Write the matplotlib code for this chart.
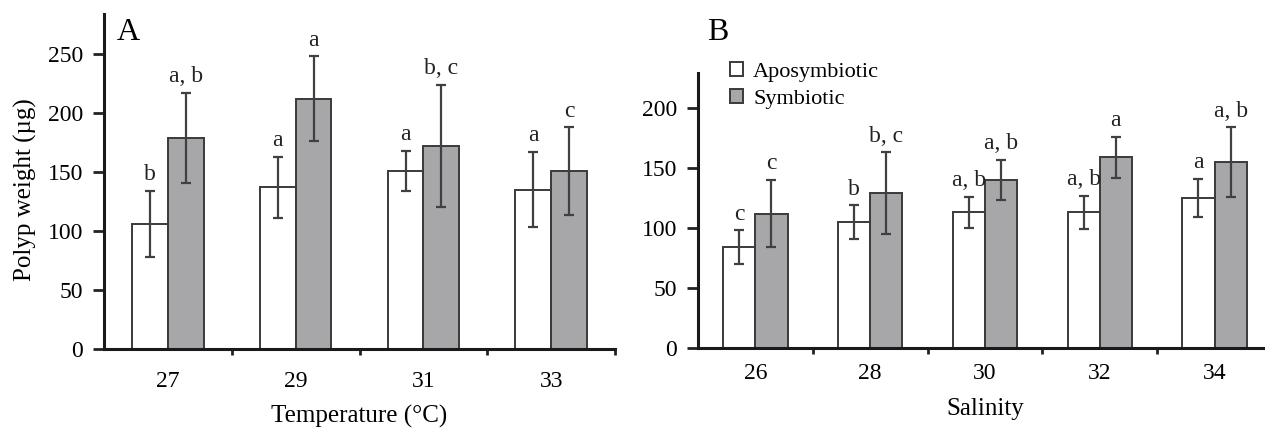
import numpy as np
import matplotlib
matplotlib.use('Agg')
import matplotlib.pyplot as plt
from matplotlib.patches import Patch

plt.rcParams['font.family'] = ['Liberation Serif', 'DejaVu Serif']

# Panel A: temperature
TEMP = ['27', '29', '31', '33']
TEMP_APO = [106, 137, 151, 135]
TEMP_APO_ERR = [28, 26, 17, 32]
TEMP_SYM = [179, 212, 172, 151]
TEMP_SYM_ERR = [38, 36, 52, 37]
TEMP_APO_LET = ['b', 'a', 'a', 'a']
TEMP_SYM_LET = ['a, b', 'a', 'b, c', 'c']

# Panel B: salinity
SAL = ['26', '28', '30', '32', '34']
SAL_APO = [84, 105, 113, 113, 125]
SAL_APO_ERR = [14, 14, 13, 14, 16]
SAL_SYM = [112, 129, 140, 159, 155]
SAL_SYM_ERR = [28, 34, 17, 17, 29]
SAL_APO_LET = ['c', 'b', 'a, b', 'a, b', 'a']
SAL_SYM_LET = ['c', 'b, c', 'a, b', 'a', 'a, b']

SYM_COLOR = '#a7a7a9'
EDGE = '#3a3a3a'
ERR = '#404040'
W = 0.28


def draw_panel(ax, cats, apo, apo_err, sym, sym_err, apo_let, sym_let,
               ymax, yticks, tickpad):
    x = np.arange(len(cats))
    ax.bar(x - W / 2, apo, W, color='white', edgecolor=EDGE, linewidth=1.4)
    ax.bar(x + W / 2, sym, W, color=SYM_COLOR, edgecolor=EDGE, linewidth=1.4)
    ax.errorbar(x - W / 2, apo, yerr=apo_err, fmt='none', ecolor=ERR,
                elinewidth=1.6, capsize=3.5, capthick=1.6)
    ax.errorbar(x + W / 2, sym, yerr=sym_err, fmt='none', ecolor=ERR,
                elinewidth=1.6, capsize=3.5, capthick=1.6)
    for xi, v, e, t in zip(x - W / 2, apo, apo_err, apo_let):
        ax.annotate(t, (xi, v + e), xytext=(0, 4), textcoords='offset points',
                    ha='center', va='bottom', fontsize=17, color='#222')
    for xi, v, e, t in zip(x + W / 2, sym, sym_err, sym_let):
        ax.annotate(t, (xi, v + e), xytext=(0, 4), textcoords='offset points',
                    ha='center', va='bottom', fontsize=17, color='#222')

    ax.set_xlim(-0.5, len(cats) - 0.5)
    ax.set_ylim(0, ymax)
    ax.set_yticks(yticks)
    ax.set_xticks(np.arange(len(cats)) + 0.5)
    ax.set_xticklabels([])
    ax.set_xticks(x, minor=True)
    ax.set_xticklabels(cats, minor=True)
    ax.tick_params(axis='x', which='major', direction='out', length=4,
                   width=2, color='#222')
    ax.tick_params(axis='x', which='minor', length=0, pad=tickpad,
                   labelsize=17)
    ax.tick_params(axis='y', direction='out', length=8, width=2,
                   color='#222', labelsize=17, pad=7)
    for s in ('top', 'right'):
        ax.spines[s].set_visible(False)
    for s in ('left', 'bottom'):
        ax.spines[s].set_linewidth(2.2)
        ax.spines[s].set_color('#1a1a1a')


fig = plt.figure(figsize=(12.65, 4.28), dpi=100)

axA = fig.add_axes([0.0822, 0.1846, 0.404, 0.7827])
draw_panel(axA, TEMP, TEMP_APO, TEMP_APO_ERR, TEMP_SYM, TEMP_SYM_ERR,
           TEMP_APO_LET, TEMP_SYM_LET, 284, [0, 50, 100, 150, 200, 250], 16)
axA.set_xlabel('Temperature (°C)', fontsize=18, labelpad=9)
fig.text(0.0925, 0.925, 'A', fontsize=23, ha='left', va='center')

axB = fig.add_axes([0.5518, 0.1876, 0.4537, 0.6411])
draw_panel(axB, SAL, SAL_APO, SAL_APO_ERR, SAL_SYM, SAL_SYM_ERR,
           SAL_APO_LET, SAL_SYM_LET, 229, [0, 50, 100, 150, 200], 11)
axB.set_xlabel('Salinity', fontsize=18, labelpad=10)
fig.text(0.559, 0.925, 'B', fontsize=23, ha='left', va='center')

handles = [Patch(facecolor='white', edgecolor=EDGE, linewidth=1.4,
                 label='Aposymbiotic'),
           Patch(facecolor=SYM_COLOR, edgecolor=EDGE, linewidth=1.4,
                 label='Symbiotic')]
fig.legend(handles=handles, loc='upper left', bbox_to_anchor=(0.577, 0.855),
           bbox_transform=fig.transFigure, frameon=False, fontsize=16,
           handlelength=0.6, handleheight=0.6, handletextpad=0.45,
           labelspacing=0.3, borderpad=0, borderaxespad=0)

fig.text(0.02, 0.556, 'Polyp weight (µg)', rotation=90, fontsize=18,
         ha='center', va='center')

fig.savefig('out.png', dpi=100)
